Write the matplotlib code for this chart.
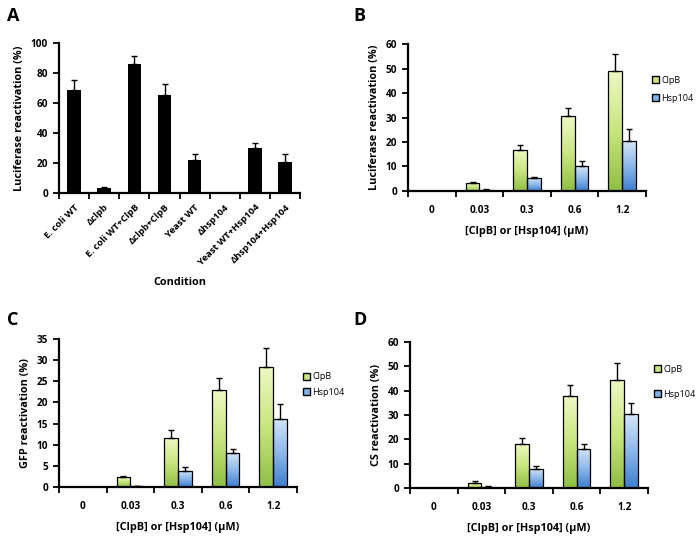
import numpy as np
import matplotlib
matplotlib.use("Agg")
import matplotlib.pyplot as plt
from matplotlib.colors import LinearSegmentedColormap
from matplotlib.patches import Patch

plt.rcParams['font.family'] = ['Open Sans', 'DejaVu Sans']

# panel A
conditions = ["E. coli WT", "Δclpb", "E. coli WT+ClpB", "Δclpb+ClpB",
              "Yeast WT", "Δhsp104", "Yeast WT+Hsp104", "Δhsp104+Hsp104"]
a_vals = [68.5, 3.4, 86, 65.5, 22, 0, 30, 20.5]
a_err = [6.7, 0.3, 5.5, 7, 3.8, 0, 3.4, 5.5]

# panels B-D
conc = ["0", "0.03", "0.3", "0.6", "1.2"]
b_clpb = [0, 3.1, 16.6, 30.5, 49.1]
b_clpb_err = [0, 0.4, 2.2, 3.6, 6.7]
b_hsp = [0, 0.6, 5.2, 10.2, 20.4]
b_hsp_err = [0, 0.2, 0.7, 2.2, 5.1]

c_clpb = [0, 2.4, 11.5, 23, 28.4]
c_clpb_err = [0, 0.3, 2.0, 2.9, 4.6]
c_hsp = [0, 0.2, 3.9, 8.0, 16.1]
c_hsp_err = [0, 0.1, 0.9, 1.0, 3.6]

d_clpb = [0, 2.0, 18.2, 37.8, 44.6]
d_clpb_err = [0, 0.8, 2.5, 4.5, 7.0]
d_hsp = [0, 0.5, 7.9, 16.2, 30.3]
d_hsp_err = [0, 0.2, 1.2, 2.1, 4.8]

green_cm = LinearSegmentedColormap.from_list("g", ["#8fbf45", "#c9e67e", "#eef8c4"])
blue_cm = LinearSegmentedColormap.from_list("b", ["#3d7fcf", "#8db8ea", "#d3e5f8"])
grad = np.linspace(0, 1, 100).reshape(-1, 1)

TICK = 7.2
LAB = 7.8


def gradient_bars(ax, x, h, w, cmap):
    bars = ax.bar(x, h, w, color="none", edgecolor="black", linewidth=0.9, zorder=3)
    for b in bars:
        if b.get_height() <= 0:
            continue
        x0, y0 = b.get_x(), b.get_y()
        im = ax.imshow(grad, cmap=cmap, aspect="auto", origin="lower",
                       extent=(x0, x0 + b.get_width(), y0, y0 + b.get_height()),
                       zorder=2)
        im.set_clip_path(b)
    return bars


def style(ax, n, ymax, step):
    for s in ["top", "right"]:
        ax.spines[s].set_visible(False)
    for s in ["left", "bottom"]:
        ax.spines[s].set_linewidth(1.6)
    ax.set_xlim(-0.5, n - 0.5)
    ax.set_ylim(0, ymax)
    ax.set_yticks(np.arange(0, ymax + 0.1, step))
    ax.set_xticks(np.arange(-0.5, n), minor=True)
    ax.tick_params(axis="x", which="major", length=0, pad=10)
    ax.tick_params(axis="x", which="minor", length=4, width=1.3, direction="out")
    ax.tick_params(axis="y", length=4, width=1.3, direction="out", labelsize=TICK, pad=4)
    for lab in ax.get_yticklabels():
        lab.set_fontweight("bold")


def dose_panel(ax, clpb, clpb_err, hsp, hsp_err, ymax, step, ylabel, leg_y, leg_sp):
    x = np.arange(len(conc))
    w = 0.29
    gradient_bars(ax, x - w / 2, clpb, w, green_cm)
    gradient_bars(ax, x + w / 2, hsp, w, blue_cm)
    ax.errorbar(x - w / 2, clpb, yerr=[np.zeros(len(clpb)), clpb_err], fmt="none",
                ecolor="black", elinewidth=1, capsize=2.5, capthick=1, zorder=4)
    ax.errorbar(x + w / 2, hsp, yerr=[np.zeros(len(hsp)), hsp_err], fmt="none",
                ecolor="black", elinewidth=1, capsize=2.5, capthick=1, zorder=4)
    style(ax, len(conc), ymax, step)
    ax.set_xticks(x)
    ax.set_xticklabels(conc, fontsize=TICK, fontweight="bold")
    ax.set_ylabel(ylabel, fontsize=LAB, fontweight="bold", labelpad=4)
    ax.set_xlabel("[ClpB] or [Hsp104] (μM)", fontsize=LAB, fontweight="bold", labelpad=7)
    handles = [Patch(facecolor="#c9e67e", edgecolor="black", label="ClpB"),
               Patch(facecolor="#7fb0e6", edgecolor="black", label="Hsp104")]
    ax.legend(handles=handles, loc="upper left", bbox_to_anchor=(1.01, leg_y),
              frameon=False, fontsize=6.5, handlelength=0.8, handleheight=0.8,
              handletextpad=0.2, labelspacing=leg_sp, borderaxespad=0)


fig = plt.figure(figsize=(6.99, 5.36), dpi=100)

axA = fig.add_axes([0.0844, 0.640, 0.345, 0.280])
xa = np.arange(len(conditions))
axA.bar(xa, a_vals, 0.45, color="black", zorder=2)
axA.errorbar(xa, a_vals, yerr=[np.zeros(len(a_vals)), a_err], fmt="none",
             ecolor="black", elinewidth=1, capsize=2.5, capthick=1, zorder=3)
style(axA, len(conditions), 100, 20)
axA.set_xticks(xa)
axA.set_xticklabels(conditions, rotation=45, ha="right", rotation_mode="anchor",
                    fontsize=6.8, fontweight="bold")
axA.tick_params(axis="x", which="major", pad=7)
axA.set_ylabel("Luciferase reactivation (%)", fontsize=LAB, fontweight="bold", labelpad=4)
axA.set_xlabel("Condition", fontsize=LAB, fontweight="bold", labelpad=7)

axB = fig.add_axes([0.5837, 0.6437, 0.3405, 0.274])
dose_panel(axB, b_clpb, b_clpb_err, b_hsp, b_hsp_err, 60, 10,
           "Luciferase reactivation (%)", 0.81, 1.0)

axC = fig.add_axes([0.0844, 0.0914, 0.3405, 0.276])
dose_panel(axC, c_clpb, c_clpb_err, c_hsp, c_hsp_err, 35, 5,
           "GFP reactivation (%)", 0.80, 0.7)

axD = fig.add_axes([0.5866, 0.0896, 0.3405, 0.272])
dose_panel(axD, d_clpb, d_clpb_err, d_hsp, d_hsp_err, 60, 10,
           "CS reactivation (%)", 0.87, 1.8)

for lab, x, y in [("A", 0.01, 0.987), ("B", 0.505, 0.987),
                  ("C", 0.01, 0.42), ("D", 0.505, 0.42)]:
    fig.text(x, y, lab, fontsize=13, fontweight="bold", va="top")

fig.savefig("out.png", dpi=100)
